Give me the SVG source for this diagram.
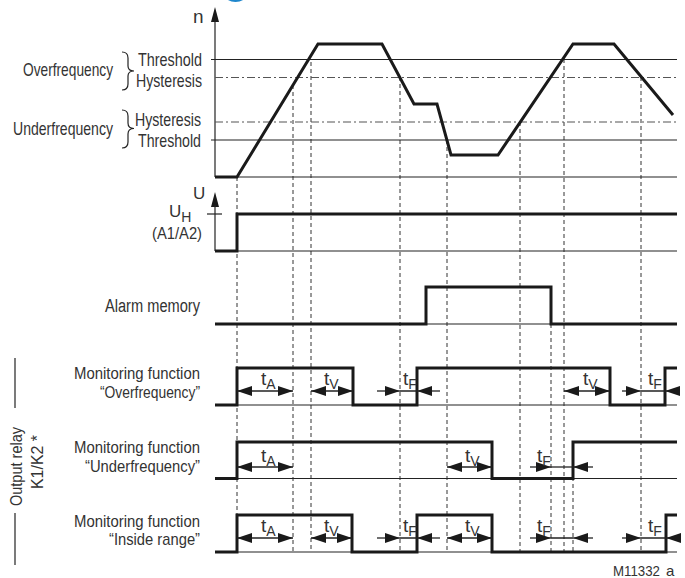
<svg xmlns="http://www.w3.org/2000/svg" width="685" height="578" viewBox="0 0 685 578">
<defs>
<style>
text{font-family:"Liberation Sans Narrow","Liberation Sans",Arial,sans-serif;fill:#333}
.lab{font-size:17px}
.big{font-size:19px}
.t{font-size:19px}
.sub{font-size:14px}
.thin{stroke:#222;stroke-width:1.2;fill:none}
.bold{stroke:#1a1a1a;stroke-width:3;fill:none;stroke-linejoin:miter}
.dash{stroke:#333;stroke-width:1;stroke-dasharray:4 3;fill:none}
.dd{stroke:#555;stroke-width:1.2;stroke-dasharray:8 3 2 3;fill:none}
.arr{stroke:#222;stroke-width:1.3;fill:none}
.dbl{marker-start:url(#ah);marker-end:url(#ah)}
.one{marker-end:url(#ah)}
</style>
<marker id="ah" viewBox="0 0 15 10" refX="15" refY="5" markerWidth="15" markerHeight="10" markerUnits="userSpaceOnUse" orient="auto-start-reverse">
<path d="M0,0 L15,5 L0,10 z" fill="#1a1a1a"/>
</marker>
</defs>

<ellipse cx="235.5" cy="-13" rx="15" ry="15" fill="#1e86cc"/>

<g id="dashed-lines">
<path class="dash" d="M237,177V552 M293,85V552 M311,62V552 M400,77V552 M447,140V552 M520,122V552 M551,324V552 M564,59V552 M573,442V552 M641,77V552"/>
</g>

<g id="speed-graph">
<polygon points="215,7 211,22 219,22" fill="#1a1a1a"/>
<line class="thin" x1="215" y1="20" x2="215" y2="177"/>
<text class="big" x="193" y="23">n</text>
<line class="thin" x1="211" y1="59.5" x2="677" y2="59.5"/>
<line class="dd" x1="215" y1="77.5" x2="677" y2="77.5"/>
<line class="dd" x1="215" y1="122" x2="677" y2="122"/>
<line class="thin" x1="211" y1="140" x2="677" y2="140"/>
<line class="thin" x1="215" y1="177" x2="677" y2="177"/>
<polyline class="bold" points="215,177 237,177 318,44 382,44 414,104 437,104 451,155 498,155 573,44 614,44 673,115"/>
<text class="big" x="113" y="76" text-anchor="end" textLength="90" lengthAdjust="spacingAndGlyphs">Overfrequency</text>
<text class="big" x="113" y="135" text-anchor="end" textLength="100" lengthAdjust="spacingAndGlyphs">Underfrequency</text>
<path class="thin" stroke-width="1.5" d="M122,52 Q128,52 128,58 L128,66 Q128,71 134,71 Q128,71 128,76 L128,84 Q128,90 122,90"/>
<path class="thin" stroke-width="1.5" d="M122,110 Q128,110 128,116 L128,123 Q128,128.5 134,128.5 Q128,128.5 128,134 L128,142 Q128,148 122,148"/>
<text class="big" x="138" y="65.5" textLength="64" lengthAdjust="spacingAndGlyphs">Threshold</text>
<text class="big" x="136" y="87" textLength="66" lengthAdjust="spacingAndGlyphs">Hysteresis</text>
<text class="big" x="135" y="126" textLength="66" lengthAdjust="spacingAndGlyphs">Hysteresis</text>
<text class="big" x="138" y="146.5" textLength="63" lengthAdjust="spacingAndGlyphs">Threshold</text>
</g>

<g id="supply-voltage">
<polygon points="215,192 211,207 219,207" fill="#1a1a1a"/>
<line class="thin" x1="215" y1="205" x2="215" y2="251"/>
<line class="thin" x1="207" y1="214" x2="222" y2="214"/>
<line class="thin" x1="237" y1="251" x2="677" y2="251"/>
<polyline class="bold" points="215,251 237,251 237,214 677,214"/>
<text class="lab" x="193" y="198.5">U</text>
<text class="lab" x="169" y="217">U<tspan class="sub" dy="4.5">H</tspan></text>
<text class="lab" x="202" y="239" text-anchor="end" textLength="50" lengthAdjust="spacingAndGlyphs">(A1/A2)</text>
</g>

<g id="alarm-memory">
<line class="thin" x1="426" y1="324" x2="551" y2="324"/>
<polyline class="bold" points="215,324 426,324 426,287 551,287 551,324 677,324"/>
<text class="lab" x="200" y="312" text-anchor="end" textLength="95" lengthAdjust="spacingAndGlyphs" style="font-size:18px">Alarm memory</text>
</g>

<g id="output-relay-label">
<line class="thin" x1="15" y1="358" x2="15" y2="408"/>
<line class="thin" x1="15" y1="513" x2="15" y2="565"/>
<text class="lab" transform="translate(22,466.5) rotate(-90)" text-anchor="middle" textLength="79" lengthAdjust="spacingAndGlyphs">Output relay</text>
<text class="lab" transform="translate(43,489) rotate(-90)" textLength="54" lengthAdjust="spacingAndGlyphs">K1/K2 *</text>
</g>

<g id="overfrequency">
<line class="thin" x1="237" y1="405" x2="677" y2="405"/>
<polyline class="bold" points="215,405 237,405 237,368 353,368 353,405 417,405 417,368 610,368 610,405 665,405 665,368 677,368"/>
<text class="lab" x="200" y="379.3" text-anchor="end" textLength="126" lengthAdjust="spacingAndGlyphs">Monitoring function</text>
<text class="lab" x="200" y="398" text-anchor="end" textLength="100" lengthAdjust="spacingAndGlyphs">“Overfrequency”</text>
<path class="arr dbl" d="M237,391H293"/>
<path class="arr dbl" d="M311,391H353"/>
<path class="arr dbl" d="M564,391H610"/>
<path class="arr one" d="M377,391H400"/>
<path class="arr one" d="M440,391H417"/>
<path class="arr one" d="M622,391H641"/>
<path class="arr one" d="M680,391H665"/>
<path class="arr" d="M400,391H417 M641,391H665"/>
<text class="t" x="261" y="385">t<tspan class="sub" dy="3.5">A</tspan></text>
<text class="t" x="324" y="385">t<tspan class="sub" dy="3.5">V</tspan></text>
<text class="t" x="403" y="385">t<tspan class="sub" dy="3.5">F</tspan></text>
<text class="t" x="583" y="385">t<tspan class="sub" dy="3.5">V</tspan></text>
<text class="t" x="648" y="385">t<tspan class="sub" dy="3.5">F</tspan></text>
</g>

<g id="underfrequency">
<line class="thin" x1="237" y1="478.5" x2="677" y2="478.5"/>
<polyline class="bold" points="215,478.5 237,478.5 237,442 492,442 492,478.5 573,478.5 573,442 677,442"/>
<text class="lab" x="200" y="453.3" text-anchor="end" textLength="126" lengthAdjust="spacingAndGlyphs">Monitoring function</text>
<text class="lab" x="200" y="471.7" text-anchor="end" textLength="115" lengthAdjust="spacingAndGlyphs">“Underfrequency”</text>
<path class="arr dbl" d="M237,467H293"/>
<path class="arr dbl" d="M447,467H492"/>
<path class="arr one" d="M530,467H551"/>
<path class="arr one" d="M593,467H573"/>
<path class="arr" d="M551,467H573"/>
<text class="t" x="261" y="462">t<tspan class="sub" dy="3.5">A</tspan></text>
<text class="t" x="465" y="462">t<tspan class="sub" dy="3.5">V</tspan></text>
<text class="t" x="537" y="462">t<tspan class="sub" dy="3.5">F</tspan></text>
</g>

<g id="inside-range">
<line class="thin" x1="237" y1="552" x2="677" y2="552"/>
<polyline class="bold" points="215,552 237,552 237,515 352,515 352,552 417,552 417,515 492,515 492,552 666,552 666,515 677,515"/>
<text class="lab" x="200" y="526.7" text-anchor="end" textLength="126" lengthAdjust="spacingAndGlyphs">Monitoring function</text>
<text class="lab" x="200" y="544.7" text-anchor="end" textLength="91" lengthAdjust="spacingAndGlyphs">“Inside range”</text>
<path class="arr dbl" d="M237,538H293"/>
<path class="arr dbl" d="M311,538H352"/>
<path class="arr dbl" d="M447,538H492"/>
<path class="arr one" d="M377,538H400"/>
<path class="arr one" d="M440,538H417"/>
<path class="arr one" d="M530,538H551"/>
<path class="arr one" d="M593,538H573"/>
<path class="arr one" d="M622,538H641"/>
<path class="arr one" d="M680,538H666"/>
<path class="arr" d="M400,538H417 M551,538H573 M641,538H666"/>
<text class="t" x="261" y="532">t<tspan class="sub" dy="3.5">A</tspan></text>
<text class="t" x="324" y="532">t<tspan class="sub" dy="3.5">V</tspan></text>
<text class="t" x="403" y="532">t<tspan class="sub" dy="3.5">F</tspan></text>
<text class="t" x="465" y="532">t<tspan class="sub" dy="3.5">V</tspan></text>
<text class="t" x="537" y="532">t<tspan class="sub" dy="3.5">F</tspan></text>
<text class="t" x="648" y="532">t<tspan class="sub" dy="3.5">F</tspan></text>
</g>

<text class="lab" x="613" y="575.5" textLength="47" lengthAdjust="spacingAndGlyphs" style="font-size:15px">M11332</text>
<text class="lab" x="666" y="575.5" style="font-size:15px">a</text>
</svg>
